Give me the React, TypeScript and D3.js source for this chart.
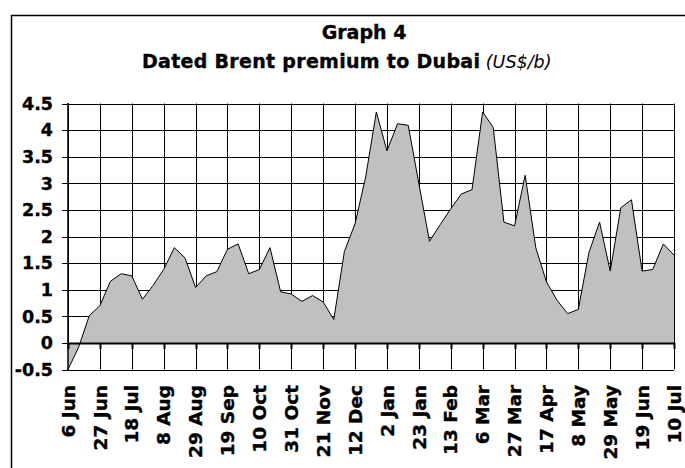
import React from 'react';
import * as d3 from 'd3';

// Weekly Dated Brent premium to Dubai (US$/b), 6 Jun .. 10 Jul
const premium: number[] = [
  -0.5, -0.08, 0.51, 0.7, 1.16, 1.3, 1.26, 0.82, 1.08, 1.38,
  1.79, 1.6, 1.04, 1.26, 1.34, 1.76, 1.86, 1.3, 1.38, 1.79,
  0.96, 0.92, 0.78, 0.89, 0.77, 0.44, 1.72, 2.24, 3.12, 4.34,
  3.61, 4.12, 4.09, 3.0, 1.91, 2.22, 2.52, 2.8, 2.88, 4.34,
  4.05, 2.27, 2.2, 3.15, 1.79, 1.15, 0.8, 0.55, 0.63, 1.7,
  2.27, 1.35, 2.54, 2.69, 1.35, 1.38, 1.86, 1.65,
];

const tickLabels: string[] = [
  '6 Jun', '27 Jun', '18 Jul', '8 Aug', '29 Aug', '19 Sep', '10 Oct',
  '31 Oct', '21 Nov', '12 Dec', '2 Jan', '23 Jan', '13 Feb', '6 Mar',
  '27 Mar', '17 Apr', '8 May', '29 May', '19 Jun', '10 Jul',
];
const labelStep = 3;

const yTicks: number[] = [-0.5, 0, 0.5, 1, 1.5, 2, 2.5, 3, 3.5, 4, 4.5];

const titleLine1 = 'Graph 4';
const titleLine2 = 'Dated Brent premium to Dubai';
const titleUnit = '(US$/b)';

export default function App() {
  const W = 685;
  const H = 468;
  const left = 68;
  const right = 674;
  const top = 103.5;
  const bottom = 369.5;

  const x = d3.scaleLinear().domain([0, premium.length - 1]).range([left, right]);
  const y = d3.scaleLinear().domain([yTicks[0], yTicks[yTicks.length - 1]]).range([bottom, top]);

  const area = d3
    .area<number>()
    .x((_, i) => x(i))
    .y0(y(0))
    .y1((d) => y(d));
  const line = d3
    .line<number>()
    .x((_, i) => x(i))
    .y((d) => y(d));

  const font = "'DejaVu Sans', Verdana, sans-serif";
  const snap = (v: number) => Math.round(v) + 0.5;
  const heavy = { stroke: '#000', strokeWidth: 0.35 };

  return (
    <svg
      width={W}
      height={H}
      style={{ position: 'absolute', left: 0, top: 0, background: '#fff' }}
      fontFamily={font}
    >
      <rect x={0} y={0} width={W} height={H} fill="#fff" />
      {/* chart frame */}
      <rect x={11.5} y={15.5} width={W + 20} height={H + 20} fill="none" stroke="#000" strokeWidth={1.5} />

      {/* title */}
      <text x={364} y={39} textAnchor="middle" fontWeight="bold" fontSize={19} fill="#000" {...heavy}>
        {titleLine1}
      </text>
      <text x={142} y={67.5} textAnchor="start" fontSize={19} fill="#000">
        <tspan fontWeight="bold" letterSpacing={0.3} {...heavy}>{titleLine2}</tspan>
        <tspan fontStyle="italic" fontWeight="normal" fontSize={17.5}>{' ' + titleUnit}</tspan>
      </text>

      {/* horizontal gridlines + y ticks */}
      {yTicks.map((t) => (
        <line key={'h' + t} x1={left - 6} x2={right} y1={snap(y(t))} y2={snap(y(t))} stroke="#000" strokeWidth={1} />
      ))}
      {/* vertical gridlines */}
      {tickLabels.map((_, k) => (
        <line
          key={'v' + k}
          x1={snap(x(k * labelStep))}
          x2={snap(x(k * labelStep))}
          y1={top}
          y2={bottom}
          stroke="#000"
          strokeWidth={1}
        />
      ))}

      {/* area */}
      <path d={area(premium) || ''} fill="#C0C0C0" stroke="none" />
      <path d={line(premium) || ''} fill="none" stroke="#000" strokeWidth={1} strokeLinejoin="miter" />

      {/* axes */}
      <line x1={left} x2={left} y1={top - 0.5} y2={bottom + 0.5} stroke="#000" strokeWidth={1.5} />
      <line x1={left} x2={right + 1} y1={snap(y(0))} y2={snap(y(0))} stroke="#000" strokeWidth={2} />
      {tickLabels.map((_, k) => (
        <line
          key={'t' + k}
          x1={snap(x(k * labelStep))}
          x2={snap(x(k * labelStep))}
          y1={y(0)}
          y2={y(0) + 6}
          stroke="#000"
          strokeWidth={2}
        />
      ))}

      {/* y labels */}
      {yTicks.map((t) => (
        <text
          key={'yl' + t}
          x={53}
          y={y(t)}
          dy="0.36em"
          textAnchor="end"
          fontWeight="bold"
          fontSize={17.5}
          fill="#000"
          {...heavy}
        >
          {String(t)}
        </text>
      ))}

      {/* x labels */}
      {tickLabels.map((lab, k) => {
        const px = x(k * labelStep);
        const py = 385;
        return (
          <text
            key={'xl' + k}
            transform={`translate(${px},${py}) rotate(-90)`}
            dy="0.36em"
            textAnchor="end"
            fontWeight="bold"
            fontSize={18.5}
            fill="#000"
            {...heavy}
          >
            {lab}
          </text>
        );
      })}
    </svg>
  );
}
